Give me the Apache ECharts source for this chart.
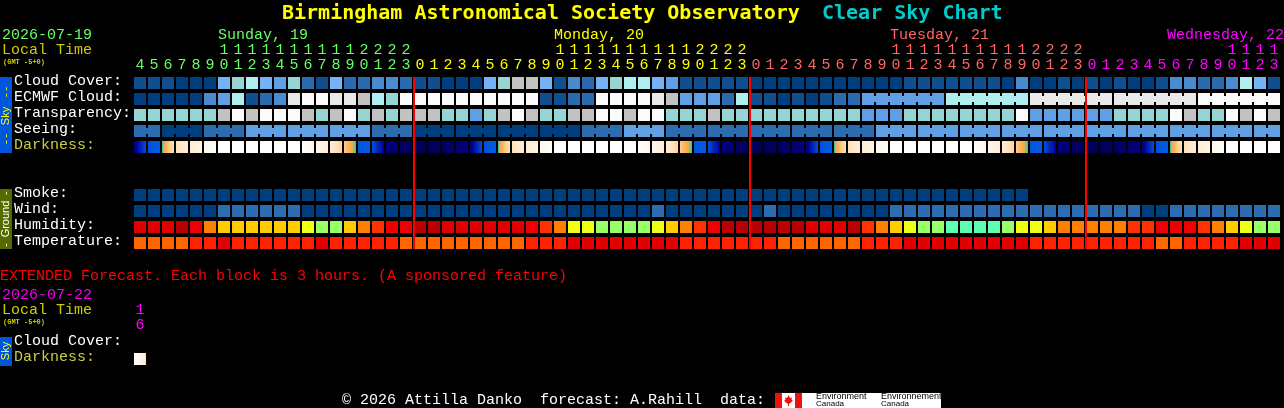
<!DOCTYPE html>
<html><head><meta charset="utf-8">
<style>html,body{margin:0;padding:0;background:#000;overflow:hidden}#c{width:1284px;height:408px}</style>
<script src="https://cdn.jsdelivr.net/npm/echarts@6/dist/echarts.min.js"></script>
</head><body><div id="c"></div>
<script>
// ---------- data ----------
const hours = [4,5,6,7,8,9,10,11,12,13,14,15,16,17,18,19,20,21,22,23,
  0,1,2,3,4,5,6,7,8,9,10,11,12,13,14,15,16,17,18,19,20,21,22,23,
  0,1,2,3,4,5,6,7,8,9,10,11,12,13,14,15,16,17,18,19,20,21,22,23,
  0,1,2,3,4,5,6,7,8,9,10,11,12,13];
const midnights = [20,44,68];
const skyRows = ['Cloud Cover:','ECMWF Cloud:','Transparency:','Seeing:','Darkness:','',' ','Smoke:','Wind:','Humidity:','Temperature:'];
const extRows = ['Cloud Cover:','Darkness:'];
const extHours = [16];

const cloud = [10,10,10,0,0,0,50,60,70,50,40,60,20,10,50,20,20,30,30,20,
  10,10,0,0,0,50,60,80,80,50,10,30,20,50,60,70,70,50,40,10,10,10,10,10,
  0,0,0,0,0,0,0,0,0,0,0,10,10,10,10,10,10,10,0,30,0,0,10,0,
  10,0,10,0,0,10,30,30,20,20,30,70,50,10];
const ecmwf = [0,0,0,0,0,30,40,70,10,20,30,90,100,100,90,90,80,70,60,100,
  100,100,100,100,100,100,100,100,100,10,10,20,20,100,100,100,100,90,80,40,40,40,20,70,
  10,10,0,10,0,10,20,20,40,40,40,40,40,40,70,70,70,70,70,70,90,90,90,90,
  90,90,90,90,90,90,90,90,100,100,100,100,100,100];
const ecmwfBlocks = [52,58,64,70,76];
const transparency = [60,60,60,60,60,60,80,100,80,100,100,100,80,60,80,100,60,80,60,80,
  80,80,60,60,40,60,80,100,80,60,60,80,80,100,100,80,100,100,60,60,60,80,60,60,
  60,60,60,60,60,60,60,60,40,40,40,60,60,60,60,60,60,60,60,100,40,40,40,40,
  40,40,60,60,60,60,100,80,60,60,100,80,100,80];
const seeing = [4,4,5,5,5,4,4,4,3,3,3,3,3,3,3,3,3,4,4,4,
  5,5,5,5,5,5,5,5,5,5,5,5,4,4,4,3,3,3,4,4,4,4,4,4,
  4,4,4,4,4,4,4,4,4,3,3,3,3,3,3,3,3,3,3,3,3,3,3,3,
  3,3,3,3,3,3,3,3,3,3,3,3,3,3];
const seeingBlocks = [0,2,5,8,11,14,17,20,23,26,29,32,35,38,41,44,47,50,53,56,59,62,65,68,71,74,77,80];
const darkStart = [4.6,1.6,0.4,-5,-7,-10,-14,-14,-14,-14,-14,-14,-14,-10,-7,-3,1.4,1.6,4.6,5.4,
  5.6,5.6,5.4,5.2,4.6,1.6,0.4,-5,-7,-10,-14,-14,-14,-14,-14,-14,-14,-10,-7,-3,1.4,1.6,4.6,5.4,
  5.6,5.6,5.4,5.2,4.6,1.6,0.4,-5,-7,-10,-14,-14,-14,-14,-14,-14,-14,-10,-7,-3,1.4,1.6,4.6,5.4,
  5.6,5.6,5.4,5.2,4.6,1.6,0.4,-5,-7,-10,-14,-14,-14,-14];
const darkEnd = [1.6,1.2,-5,-7,-9,-13,-14,-14,-14,-14,-14,-14,-10,-7,-3.5,0.4,1.2,4.0,5.2,5.4,
  5.6,5.4,5.2,4.6,1.6,1.2,-5,-7,-9,-13,-14,-14,-14,-14,-14,-14,-10,-7,-3.5,0.4,1.2,4.0,5.2,5.4,
  5.6,5.4,5.2,4.6,1.6,1.2,-5,-7,-9,-13,-14,-14,-14,-14,-14,-14,-10,-7,-3.5,0.4,1.2,4.0,5.2,5.4,
  5.6,5.4,5.2,4.6,1.6,1.2,-5,-7,-9,-13,-14,-14,-14,-14];
const smoke = [1,1,1,1,1,1,1,1,1,1,1,1,1,1,1,1,1,1,1,1,
  1,1,1,1,1,1,1,1,1,1,1,1,1,1,1,1,1,1,1,1,1,1,1,1,
  1,1,1,1,1,1,1,1,1,1,1,1,1,1,1,1,1,1,1,1];
const wind = [5,5,5,5,5,5,8,8,8,8,8,8,5,5,5,5,5,5,5,5,
  5,5,5,5,5,5,5,5,5,5,5,5,5,5,5,5,5,8,5,5,5,5,5,5,
  5,8,5,5,5,5,5,5,5,5,8,8,8,8,8,8,8,8,8,8,8,8,8,8,
  8,8,8,8,5,5,8,8,8,8,8,8,8,8];
const humidity = [95,95,95,100,90,80,75,75,75,75,75,75,70,65,65,75,80,85,90,90,100,
  100,95,95,95,95,95,95,90,85,80,70,70,65,65,65,65,70,75,80,85,90,100,100,
  100,100,100,100,95,95,95,100,85,80,75,70,65,65,60,60,60,60,65,70,70,75,80,80,
  80,80,80,85,85,90,90,90,85,80,75,70,65,65];
const temperature = [68,68,68,68,77,77,86,77,77,77,77,77,77,86,77,77,77,77,77,68,
  68,68,68,68,68,68,68,68,77,77,77,86,86,86,86,86,86,86,86,77,77,77,77,77,
  77,77,68,68,68,68,68,68,77,77,77,86,86,86,86,86,86,86,86,86,77,77,77,77,
  77,77,77,77,77,68,68,77,77,77,77,86,86,86];
const extDarkStart = [-14];
const extDarkEnd = [-6];

// ---------- colour keys ----------
const skyColors = {0:'#003f7f',10:'#0f4f8f',20:'#2a6aae',30:'#4a8acf',40:'#5f9fe3',50:'#74b4f6',60:'#97d5d5',70:'#aeeeee',80:'#c2c2c2',90:'#e9e9e9',100:'#fbfbfb'};
const seeingColors = {5:'#003f7f',4:'#2c6cb0',3:'#5f9fe3'};
const smokeColors = {1:'#003f7f'};
const windColors = {5:'#003f7f',8:'#2c6cb0'};
const humidityColors = {100:'#b80000',95:'#e00000',90:'#ee0000',85:'#ff3300',80:'#ff8000',75:'#ffcc00',70:'#eeff11',65:'#99ff66',60:'#5cffb0'};
const temperatureColors = {68:'#ff6600',77:'#ff2200',86:'#e00000'};
const darkRamp = [[-14,'#ffffff'],[-10,'#fff6ec'],[-6,'#ffe8cc'],[-3.5,'#ffd49c'],[-2,'#ffb860'],[-0.8,'#ffa840'],[0,'#80c080'],[0.4,'#00c8e0'],[0.8,'#0070e4'],[1.2,'#005ce0'],[1.6,'#0050dc'],[3,'#0020b0'],[4,'#000098'],[4.6,'#000080'],[5.2,'#000068'],[5.6,'#00005a']];

const FONT = '"Liberation Mono"';
const BOLD = '"DejaVu Sans Mono"';
const rgb = h => [1,3,5].map(i => parseInt(h.substr(i,2),16));
function darkColor(m){
  for(let i=1;i<darkRamp.length;i++){
    if(m<=darkRamp[i][0]){
      const [a,ca]=darkRamp[i-1],[b,cb]=darkRamp[i];
      const t=Math.max(0,(m-a)/(b-a)),A=rgb(ca),B=rgb(cb);
      return 'rgb('+A.map((v,k)=>Math.round(v+(B[k]-v)*t)).join(',')+')';
    }
  }
  return darkRamp[darkRamp.length-1][1];
}
const sameBlock = (blocks,i) => {
  if(i<blocks[0]) return false;
  return !blocks.includes(i+1);
};
// rows: [row index, values, colour key, block starts]
const flatRows = [
  [0,cloud,skyColors,null],[1,ecmwf,skyColors,ecmwfBlocks],[2,transparency,skyColors,null],
  [3,seeing,seeingColors,seeingBlocks],[7,smoke,smokeColors,null],[8,wind,windColors,null],
  [9,humidity,humidityColors,null],[10,temperature,temperatureColors,null]];
const flatData=[];
flatRows.forEach(([r,vals,key,blocks])=>vals.forEach((v,i)=>{
  const linked = blocks && i<vals.length-1 && sameBlock(blocks,i) ? 1 : 0;
  flatData.push({value:[i,r,v,linked],color:key[v]});
}));
const renderFlat=(p,api)=>{
  const c=api.coord([api.value(0),api.value(1)]);
  const fill=flatData[p.dataIndex].color;
  const kids=[{type:'rect',shape:{x:c[0]-6,y:c[1]-6,width:12,height:12},style:{fill}}];
  if(api.value(3)) kids.push({type:'rect',shape:{x:c[0]+6,y:c[1]-3,width:2,height:6},style:{fill}});
  return {type:'group',children:kids};
};
const renderDark=(p,api)=>{
  const c=api.coord([api.value(0),api.value(1)]);
  const s=api.value(2),e=api.value(3),stops=[];
  for(let k=0;k<=16;k++) stops.push({offset:k/16,color:darkColor(s+(e-s)*k/16)});
  return {type:'rect',shape:{x:c[0]-6,y:c[1]-6,width:12,height:12},
    style:{fill:{type:'linear',x:0,y:0,x2:1,y2:0,colorStops:stops}}};
};
const renderRed=(p,api)=>{
  const a=api.coord([api.value(0),0]),b=api.coord([api.value(0),10]);
  return {type:'rect',shape:{x:a[0]-7,y:a[1]-6,width:2,height:b[1]-a[1]+12},style:{fill:'#ff0000'}};
};
const dayColor = i => i<20?'#66ff66':i<44?'#ffff00':i<68?'#ff6666':'#ff00ff';
const xBase={type:'category',position:'top',axisLine:{show:false},axisTick:{show:false},splitLine:{show:false}};
const lab=(extra)=>Object.assign({interval:0,fontFamily:FONT,fontSize:15,margin:2,hideOverlap:false},extra);
const yLabel={interval:0,fontFamily:FONT,fontSize:15,align:'left',margin:119,verticalAlign:'bottom',lineHeight:4,
  color:(v)=>v==='Darkness:'?'#cccc44':'#ffffff'};
const T=(text,x,y,fill,size,opt)=>Object.assign({type:'text',x,y,silent:true,
  style:Object.assign({text,fill,font:(opt&&opt.weight||'normal')+' '+size+'px '+((opt&&opt.family)||FONT),verticalAlign:'middle',align:'left'},opt&&opt.style)},opt&&opt.el);
const R=(x,y,w,h,fill)=>({type:'rect',silent:true,shape:{x,y,width:w,height:h},style:{fill}});
const V=(text,x,y,fill,size,family)=>({type:'text',x,y,rotation:Math.PI/2,silent:true,
  style:{text,fill,font:size+'px '+(family||'"Liberation Sans"'),align:'center',verticalAlign:'middle'}});

const option={
  backgroundColor:'#000',animation:false,
  grid:[{left:133,top:75,width:1148,height:176},{left:133,top:335,width:14,height:32}],
  xAxis:[
    Object.assign({},xBase,{gridIndex:0,data:hours.map(String),axisLabel:lab({color:(v,i)=>dayColor(i),formatter:(v)=>String(+v%10)})}),
    Object.assign({},xBase,{gridIndex:0,offset:15,data:hours.map(String),axisLabel:lab({color:(v,i)=>dayColor(i),formatter:(v)=>+v>=10?String(Math.floor(+v/10)):''})}),
    Object.assign({},xBase,{gridIndex:1,data:extHours.map(String),axisLabel:lab({color:'#ff00ff',formatter:(v)=>String(+v%10)})}),
    Object.assign({},xBase,{gridIndex:1,offset:15,data:extHours.map(String),axisLabel:lab({color:'#ff00ff',formatter:(v)=>String(Math.floor(+v/10))})})
  ],
  yAxis:[
    {type:'category',gridIndex:0,inverse:true,data:skyRows,axisLine:{show:false},axisTick:{show:false},splitLine:{show:false},axisLabel:yLabel},
    {type:'category',gridIndex:1,inverse:true,data:extRows,axisLine:{show:false},axisTick:{show:false},splitLine:{show:false},axisLabel:yLabel}
  ],
  series:[
    {type:'custom',xAxisIndex:0,yAxisIndex:0,coordinateSystem:'cartesian2d',silent:true,renderItem:renderFlat,encode:{x:0,y:1},data:flatData},
    {type:'custom',xAxisIndex:0,yAxisIndex:0,coordinateSystem:'cartesian2d',silent:true,renderItem:renderDark,encode:{x:0,y:1},
      data:darkStart.map((s,i)=>[i,4,s,darkEnd[i]])},
    {type:'custom',xAxisIndex:2,yAxisIndex:1,coordinateSystem:'cartesian2d',silent:true,renderItem:renderDark,encode:{x:0,y:1},
      data:extDarkStart.map((s,i)=>[i,1,s,extDarkEnd[i]])},
    {type:'custom',xAxisIndex:0,yAxisIndex:0,coordinateSystem:'cartesian2d',silent:true,renderItem:renderRed,encode:{x:0},z:5,
      data:midnights.map(m=>[m])}
  ],
  graphic:{elements:[
    T('Birmingham Astronomical Society Observatory',282,14,'#ffff00',20,{weight:'bold',family:BOLD}),
    T('Clear Sky Chart',822,14,'#00cccc',20,{weight:'bold',family:BOLD}),
    T('2026-07-19',2,35,'#66ff66',15),
    T('Local Time',2,50,'#cccc00',15),
    T('(GMT -5+0)',3,62,'#cccc00',7,{weight:'bold'}),
    T('Sunday, 19',218,35,'#66ff66',15),
    T('Monday, 20',554,35,'#ffff00',15),
    T('Tuesday, 21',890,35,'#ff6666',15),
    T('Wednesday, 22',1167,35,'#ff00ff',15),
    R(0,77,12,76,'#0055dd'),
    V('Sky',6,116,'#ffff00',11),
    V('--',6,92,'#ffff00',11,FONT),V('--',6,139,'#ffff00',11,FONT),
    R(0,189,12,60,'#556b00'),
    V('Ground',6,219,'#ffffff',11),
    V('-',6,193,'#ffffff',10,FONT),V('-',6,245,'#ffffff',10,FONT),
    T('EXTENDED Forecast. Each block is 3 hours. (A sponsored feature)',0,276,'#ff0000',15),
    T('2026-07-22',2,295,'#ee00ee',15),
    T('Local Time',2,310,'#cccc00',15),
    T('(GMT -5+0)',3,322,'#cccc00',7,{weight:'bold'}),
    R(0,337,12,29,'#0055dd'),
    V('Sky',6,351,'#ffff00',11),
    T('\u00a9 2026 Attilla Danko  forecast: A.Rahill  data:',342,400,'#ffffff',15),
    R(775,393,166,15,'#ffffff'),
    R(775,393,7,15,'#ee1111'),R(795,393,7,15,'#ee1111'),
    {type:'polygon',silent:true,shape:{points:[[788.5,395],[790,398],[792,397.5],[791.5,400],[793,400.5],[790,403.5],[789,403.5],[789,406],[788,406],[788,403.5],[787,403.5],[784,400.5],[785.5,400],[785,397.5],[787,398]]},style:{fill:'#ee1111'}},
    T('Environment',816,397,'#000000',9,{family:'"Liberation Sans"'}),
    T('Canada',816,404,'#000000',8,{family:'"Liberation Sans"'}),
    T('Environnement',881,397,'#000000',9,{family:'"Liberation Sans"'}),
    T('Canada',881,404,'#000000',8,{family:'"Liberation Sans"'})
  ]}
};
const chart=echarts.init(document.getElementById('c'),null,{width:1284,height:408});
chart.setOption(option);
</script></body></html>
